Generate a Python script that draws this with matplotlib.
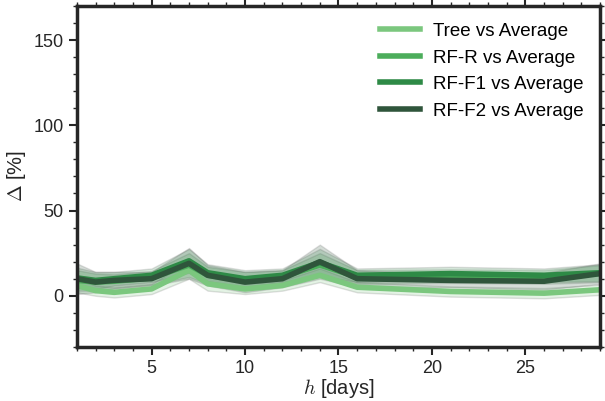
import numpy as np
import matplotlib
matplotlib.use('Agg')
import matplotlib.pyplot as plt
from matplotlib.ticker import MultipleLocator

plt.rcParams['font.family'] = ['Liberation Sans', 'DejaVu Sans']
plt.rcParams['mathtext.fontset'] = 'cm'

# horizon (days)
h = [1, 2, 3, 5, 7, 8, 10, 12, 14, 16, 21, 26, 29]

labels = ['Tree vs Average', 'RF-R vs Average', 'RF-F1 vs Average', 'RF-F2 vs Average']
colors = ['#7bc77e', '#4cad5b', '#2e8a46', '#2f553b']

tree = [6, 3, 2, 4, 15, 7, 4, 6, 12, 5, 2.5, 1.5, 3.5]
rf_r = [9, 8, 8.5, 10.5, 18, 12, 9, 11, 18, 11, 11.5, 11, 13]
rf_f1 = [10.5, 9, 10, 12, 20.5, 13.5, 10, 12, 19.5, 12, 13, 12, 13.5]
rf_f2 = [10, 8, 9, 10, 19, 12, 8, 10, 20, 10, 9, 8.5, 13]

tree_err = [4, 3, 3, 3, 5, 4, 3, 3, 4, 3, 3, 3, 3]
rf_r_err = [6, 5, 4, 4, 7, 5, 5, 4, 7, 4, 4, 4, 5]
rf_f1_err = [6, 5, 4, 4, 7, 5, 5, 4, 8, 4, 4, 4, 5]
rf_f2_err = [9, 6, 5, 4, 9, 6, 6, 5, 10, 5, 4, 5, 6]

series = [tree, rf_r, rf_f1, rf_f2]
errs = [tree_err, rf_r_err, rf_f1_err, rf_f2_err]

fig = plt.figure(figsize=(6.05, 4.01), dpi=100)
ax = fig.add_axes([0.127, 0.135, 0.865, 0.85])

for y, e, c in zip(series, errs, colors):
    y = np.array(y)
    e = np.array(e)
    ax.fill_between(h, y - e, y + e, facecolor=matplotlib.colors.to_rgba(c, 0.2),
                    edgecolor=(0.4, 0.4, 0.4, 0.2), linewidth=1.0)
for y, c, lab in zip(series, colors, labels):
    ax.plot(h, y, color=c, linewidth=4, label=lab)

ax.set_xlim(1, 29)
ax.set_ylim(-30, 170)
ax.xaxis.set_major_locator(MultipleLocator(5))
ax.xaxis.set_minor_locator(MultipleLocator(1))
ax.yaxis.set_major_locator(MultipleLocator(50))
ax.yaxis.set_minor_locator(MultipleLocator(10))
ax.tick_params(which='both', direction='out', top=True, right=True,
               color='#262626', labelcolor='#262626', labelsize=13)
ax.tick_params(which='major', length=6, width=1.5)
ax.tick_params(which='minor', length=3, width=1)
for s in ax.spines.values():
    s.set_linewidth(2.5)
    s.set_color('#262626')

ax.set_xlabel('$h$ [days]', fontsize=14.5, color='#262626', labelpad=0)
ax.set_ylabel(r'$\Delta$ [%]', fontsize=14.5, color='#262626')

ax.legend(loc='upper right', frameon=False, fontsize=13.5, handlelength=2.1,
          handletextpad=0.7, labelspacing=0.5)

plt.savefig('out.png', dpi=100)
